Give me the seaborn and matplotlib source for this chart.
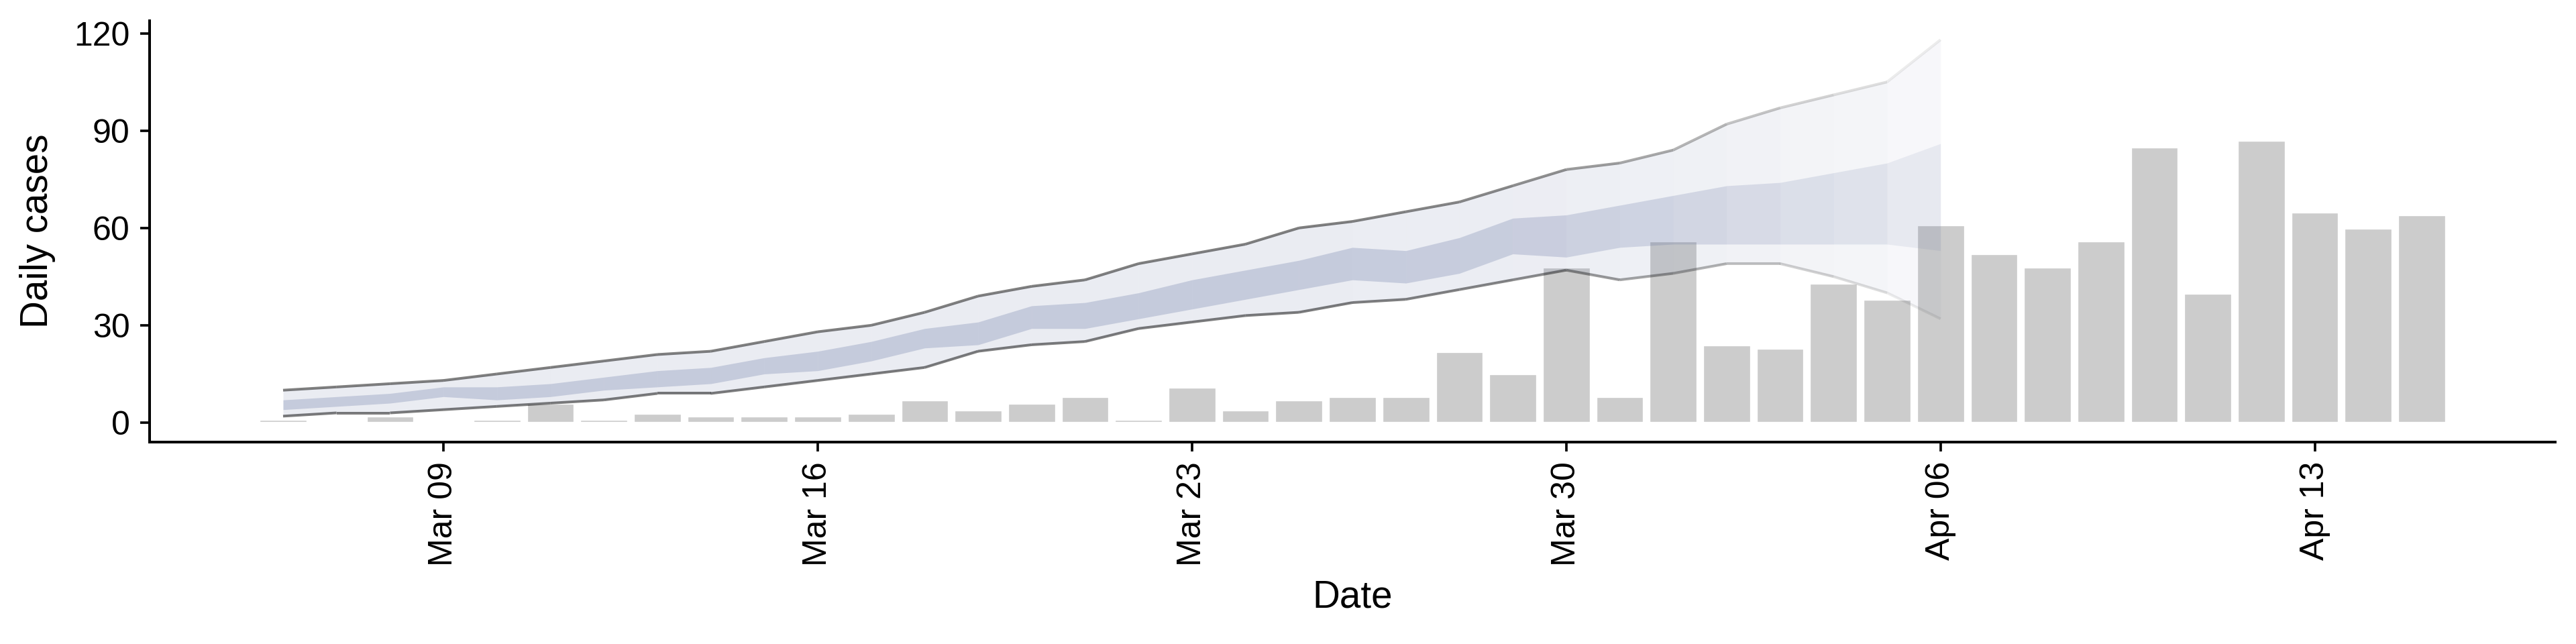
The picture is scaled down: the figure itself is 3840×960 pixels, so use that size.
"""Daily cases with nowcast band — recreated with seaborn."""
import matplotlib
matplotlib.use("Agg")
import matplotlib.pyplot as plt
import matplotlib.ticker as mticker
import numpy as np
import pandas as pd
import seaborn as sns

# ── data ────────────────────────────────────────────────────────────────────
DATES = pd.date_range("2020-03-06", "2020-04-15", freq="D")
CASES = [1, 0, 2, 0, 1, 6, 1, 3, 2, 2,
         2, 3, 7, 4, 6, 8, 1, 11, 4, 7,
         8, 8, 22, 15, 48, 8, 56, 24, 23, 43,
         38, 61, 52, 48, 56, 85, 40, 87, 65, 60,
         64]

BAND_DATES = pd.date_range("2020-03-06", "2020-04-06", freq="D")
UPPER_90 = [10, 11, 12, 13, 15, 17, 19, 21, 22, 25, 28,
            30, 34, 39, 42, 44, 49, 52, 55, 60, 62,
            65, 68, 73, 78, 80, 84, 92, 97, 101, 105, 118]
LOWER_90 = [2, 3, 3, 4, 5, 6, 7, 9, 9, 11, 13,
            15, 17, 22, 24, 25, 29, 31, 33, 34, 37,
            38, 41, 44, 47, 44, 46, 49, 49, 45, 40, 32]
UPPER_50 = [7, 8, 9, 11, 11, 12, 14, 16, 17, 20, 22,
            25, 29, 31, 36, 37, 40, 44, 47, 50, 54,
            53, 57, 63, 64, 67, 70, 73, 74, 77, 80, 86]
LOWER_50 = [4, 5, 6, 8, 7, 8, 10, 11, 12, 15, 16,
            19, 23, 24, 29, 29, 32, 35, 38, 41, 44,
            43, 46, 52, 51, 54, 55, 55, 55, 55, 55, 53]

# visibility of each band segment (recent days fade out)
FADE = [1.0] * 20 + [0.98, 0.96, 0.93, 0.88, 0.78, 0.68,
                     0.58, 0.46, 0.35, 0.26, 0.15]

# ── style ───────────────────────────────────────────────────────────────────
BAR_COLOR  = "#cccccc"
BAND_COLOR = "#58699b"

sns.set_theme(style="ticks")
plt.rcParams["font.family"] = ["Liberation Sans", "DejaVu Sans"]
plt.rcParams.update({
    "axes.edgecolor":  "black",
    "axes.linewidth":  1.2,
    "xtick.color":     "black",
    "ytick.color":     "black",
    "axes.labelcolor": "black",
})

df = pd.DataFrame({"day": DATES.strftime("%Y-%m-%d"), "cases": CASES})

fig, ax = plt.subplots(figsize=(16, 4), dpi=240)

sns.barplot(data=df, x="day", y="cases", color=BAR_COLOR, saturation=1,
            width=0.9, errorbar=None, ax=ax)

pos = DATES.get_indexer(BAND_DATES)
for k in range(len(pos) - 1):
    xs = pos[k:k + 2]
    g = np.sqrt(FADE[k])
    ax.fill_between(xs, LOWER_90[k:k + 2], UPPER_90[k:k + 2],
                    color=BAND_COLOR, alpha=0.12 * g, lw=0)
    ax.fill_between(xs, LOWER_50[k:k + 2], UPPER_50[k:k + 2],
                    color=BAND_COLOR, alpha=0.25 * g, lw=0)
    for arr in (UPPER_90, LOWER_90):
        ax.plot(xs, arr[k:k + 2], color="black", alpha=0.5 * FADE[k],
                lw=1.2, solid_capstyle="butt")

# weekly ticks on Mondays
tick_idx = [i for i, d in enumerate(DATES) if d.weekday() == 0]
tick_lab = [DATES[i].strftime("%b %d") for i in tick_idx]
ax.set_xticks(tick_idx)
ax.set_xticklabels(tick_lab, rotation=90)

ax.set_xlim(-2.5, len(DATES) + 1.5)
ax.set_ylim(-5.9, 123.9)
ax.yaxis.set_major_locator(mticker.MultipleLocator(30))

ax.tick_params(labelsize=15, length=4.3, width=1.1, pad=4.5)
ax.set_xlabel("Date", fontsize=17, labelpad=6)
ax.set_ylabel("Daily cases", fontsize=17, labelpad=8)
sns.despine(ax=ax)

fig.subplots_adjust(left=0.058, right=0.992, top=0.968, bottom=0.314)
fig.savefig("out.png", dpi=240)
plt.close(fig)
